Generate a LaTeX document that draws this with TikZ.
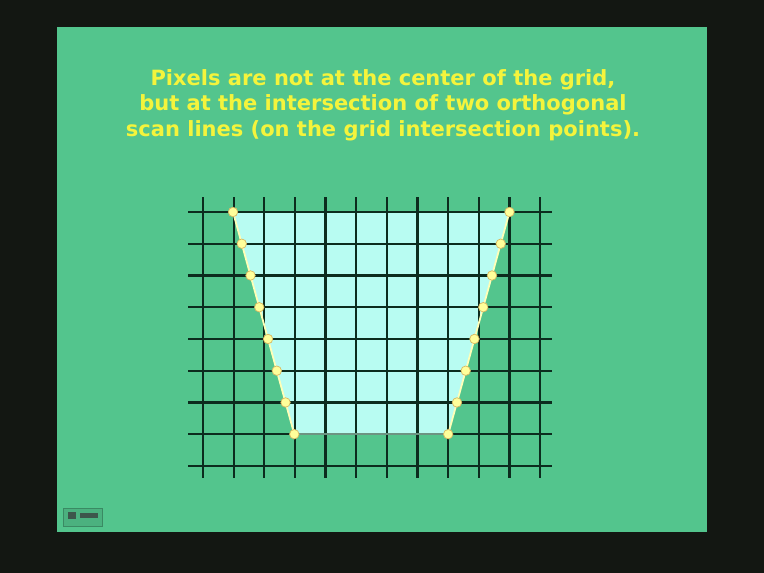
\documentclass[tikz,border=0pt]{standalone}
\usepackage{fontspec}
\setmainfont{DejaVu Sans}
\usepackage{tikz}
\usetikzlibrary{calc}
\definecolor{frame}{HTML}{131712}
\definecolor{slide}{HTML}{53C58D}
\definecolor{gridink}{HTML}{0C2C1E}
\definecolor{glass}{HTML}{B8FCF2}
\definecolor{chalk}{HTML}{FFFFB8}
\definecolor{dotfill}{HTML}{FFFF9A}
\definecolor{dotrim}{HTML}{D9B860}
\definecolor{headline}{HTML}{F4F43C}
\definecolor{floor}{HTML}{6C9482}

\begin{document}
\begin{tikzpicture}[x=1pt, y=-1pt,
  gridline/.style={draw=gridink, line width=2.3pt},
  edge/.style={draw=chalk, line width=1.8pt},
  pixel/.style={circle, draw=dotrim, line width=0.7pt, fill=dotfill, inner sep=0pt, minimum size=9.5pt},
  headtext/.style={font=\bfseries\fontsize{21}{25.5}\selectfont, text=headline, align=center}
]
  % slide and frame
  \fill[frame] (0,0) rectangle (764,573);
  \fill[slide] (57,27) rectangle (707,532);
  \node[headtext] (head) at (383,105) {Pixels are not at the center of the grid,\\but at the intersection of two orthogonal\\scan lines (on the grid intersection points).};

  % polygon corners on grid points
  \coordinate (tl) at (233,212);
  \coordinate (tr) at (509.5,212);
  \coordinate (br) at (448.2,434.2);
  \coordinate (bl) at (294.3,434.2);
  \fill[glass] (tl) -- (tr) -- (br) -- (bl) -- cycle;

  % scan lines
  \foreach \i in {0,...,11}
    \draw[gridline] ({203+30.65*\i},197) -- ({203+30.65*\i},478);
  \foreach \j in {0,...,8}
    \draw[gridline] (188,{212+31.75*\j}) -- (552,{212+31.75*\j});

  \draw[floor, line width=2pt] (bl) -- (br);
  \draw[edge] (tl) -- (bl);
  \draw[edge] (tr) -- (br);
  \foreach \r in {0,...,7} {
    \node[pixel] (l\r) at ($(tl)!\r/7!(bl)$) {};
    \node[pixel] (r\r) at ($(tr)!\r/7!(br)$) {};
  }

  % button
  \node[draw=slide!70!black, fill=slide!90!black, minimum width=39pt, minimum height=18pt, inner sep=0pt] (btn) at (82.5,517.5) {};
  \fill[gridink!80] (68,512) rectangle (76,519);
  \fill[gridink!80] (80,513) rectangle (98,518);
\end{tikzpicture}
\end{document}
